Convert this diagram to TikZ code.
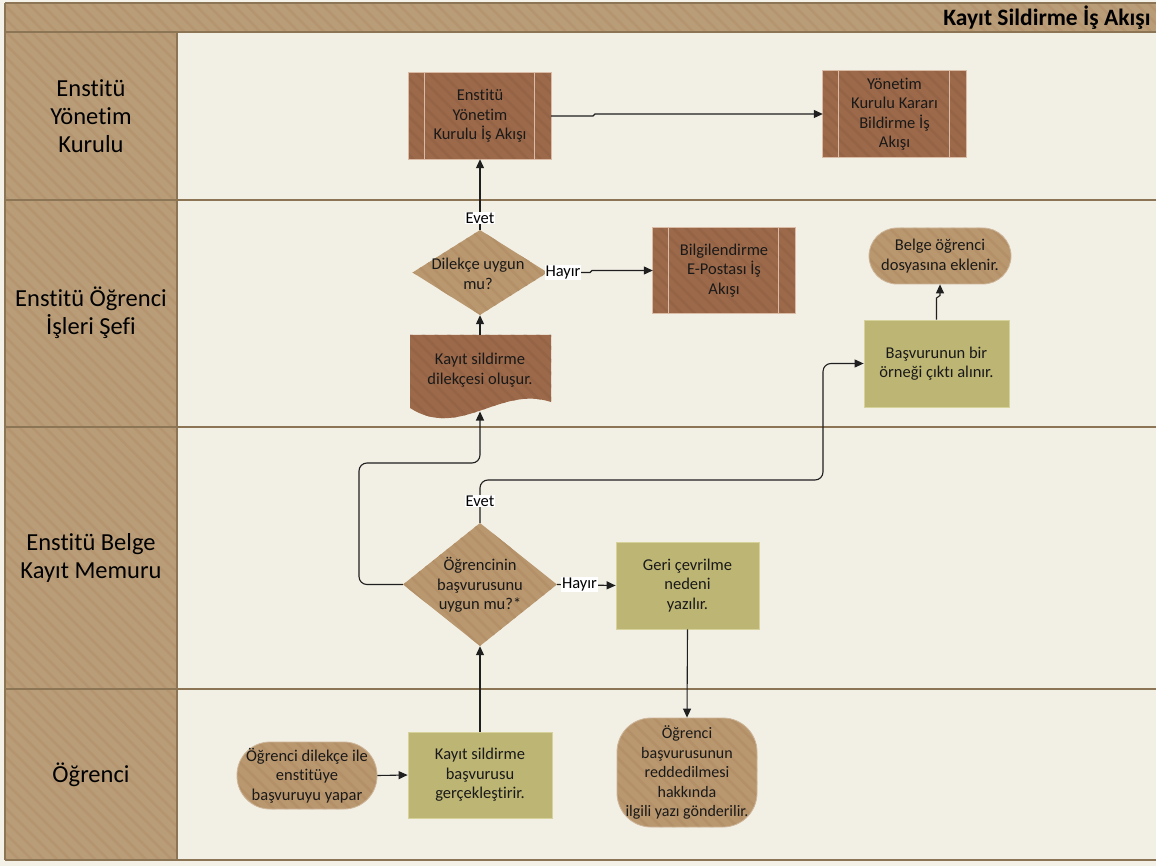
\documentclass[tikz,border=0pt]{standalone}
\usepackage{fontspec}
\setmainfont{Carlito}[Ligatures={NoCommon}]
\usetikzlibrary{arrows.meta,shapes.geometric,patterns.meta}
\definecolor{bgout}{HTML}{F3F1E8}
\definecolor{bgin}{HTML}{F2EFE4}
\definecolor{lanefill}{HTML}{B99D79}
\definecolor{lanestripe}{HTML}{B4956F}
\definecolor{lanerule}{HTML}{8C7555}
\definecolor{predfill}{HTML}{9C6A4A}
\definecolor{predstripe}{HTML}{956345}
\definecolor{predline}{HTML}{D9BBA6}
\definecolor{tanfill}{HTML}{B9976F}
\definecolor{tanstripe}{HTML}{B39067}
\definecolor{olivefill}{HTML}{BDB574}
\definecolor{oliveline}{HTML}{D7D19C}
\tikzset{
  striped/.style 2 args={preaction={fill=#1},pattern={Lines[angle=-45,distance=9pt,line width=2.5pt]},pattern color=#2},
  lanelbl/.style={align=center,font=\fontsize{24.5}{28}\selectfont,text=black},
  boxtext/.style={align=center,font=\fontsize{16.5}{19.5}\selectfont,text=black!90,inner sep=0pt},
  predef/.style={boxtext,rectangle,striped={predfill}{predstripe},minimum width=142pt,minimum height=86pt},
  olivebox/.style={boxtext,rectangle,fill=olivefill,draw=oliveline,line width=0.8pt,minimum width=143pt,minimum height=87pt},
  termbox/.style={boxtext,rectangle,striped={tanfill}{tanstripe},draw=tanfill!70!white,line width=0.8pt},
  decision/.style={diamond,inner sep=0pt,striped={tanfill}{tanstripe},draw=none},
  conn/.style={draw=black!88,line width=1.1pt,-{Triangle[length=9pt,width=8pt]}},
  flowlbl/.style={fill=white,inner sep=1pt,font=\fontsize{16.5}{18}\selectfont,text=black}
}
\begin{document}
\begin{tikzpicture}[x=1pt,y=-1pt]
\useasboundingbox (0,0) rectangle (1156,866);
\fill[bgout] (0,0) rectangle (1156,866);
% lanes background
\fill[bgin] (177,32) rectangle (1160,860);
% title bar and lane heads
\path[striped={lanefill}{lanestripe}] (5,3) rectangle (1160,32);
\path[striped={lanefill}{lanestripe}] (5,32) rectangle (177,860);
\draw[lanerule,line width=1.6pt] (5,3) -- (1160,3);
\foreach \yy in {32,200,427,689,860} {\draw[lanerule,line width=1.6pt] (5,\yy) -- (1160,\yy);}
\draw[lanerule,line width=1.6pt] (5,3) -- (5,860);
\draw[lanerule,line width=1.2pt] (177,32) -- (177,860);
\node[anchor=east,font=\fontsize{23.5}{28}\selectfont\bfseries] (title) at (1154,17.5) {Kayıt Sildirme İş Akışı};
% lane labels
\node[lanelbl] (l1) at (91,116) {Enstitü\\Yönetim\\Kurulu};
\node[lanelbl] (l2) at (91,313) {Enstitü Öğrenci\\İşleri Şefi};
\node[lanelbl] (l3) at (91,558) {Enstitü Belge\\Kayıt Memuru};
\node[lanelbl] (l4) at (91,775) {Öğrenci};
% nodes
\node[predef] (p1) at (480,116) {Enstitü\\Yönetim\\Kurulu İş Akışı};
\node[predef,minimum width=143pt] (p2) at (894.5,114) {Yönetim\\Kurulu Kararı\\Bildirme İş\\Akışı};
\node[predef,minimum height=85pt] (p3) at (724,270.5) {Bilgilendirme\\E-Postası İş\\Akışı};
\foreach \n in {p1,p2,p3} {
  \draw[predline,line width=0.8pt] (\n.north west) rectangle (\n.south east);
  \draw[predline,line width=1.2pt] ([xshift=16pt]\n.north west) -- ([xshift=16pt]\n.south west);
  \draw[predline,line width=1.2pt] ([xshift=-17pt]\n.north east) -- ([xshift=-17pt]\n.south east);
}
\node[decision,minimum width=135pt,minimum height=85pt] (d1) at (480,272.5) {};
\node[boxtext] (d1t) at (478,274) {Dilekçe uygun\\mu?};
% document shape
\path[striped={predfill}{predstripe}] (410,335) -- (551,335) -- (551,402) .. controls (500,385) and (460,440) .. (410,408) -- cycle;
\node[boxtext,minimum width=141pt,minimum height=70pt] (doc) at (480,370) {Kayıt sildirme\\dilekçesi oluşur.};
\coordinate (docbot) at (480,411.5);
\node[termbox,rounded corners=28pt,minimum width=142pt,minimum height=56pt] (t1) at (940,256) {Belge öğrenci\\dosyasına eklenir.};
\node[olivebox,minimum width=145pt] (r1) at (936.5,363.5) {Başvurunun bir\\örneği çıktı alınır.};
\node[decision,minimum width=154pt,minimum height=123pt] (d2) at (480,584.5) {};
\node[boxtext] (d2t) at (480,585) {Öğrencinin\\başvurusunu\\uygun mu?*};
\node[olivebox] (r2) at (687.5,585.5) {Geri çevrilme\\nedeni\\yazılır.};
\node[termbox,rounded corners=33pt,minimum width=140pt,minimum height=67pt] (t2) at (307,775.5) {Öğrenci dilekçe ile\\enstitüye\\başvuruyu yapar};
\node[olivebox,minimum width=144pt,minimum height=86pt] (r3) at (480,775) {Kayıt sildirme\\başvurusu\\gerçekleştirir.};
\node[termbox,rounded corners=34pt,minimum width=140pt,minimum height=109pt,font=\fontsize{16}{19.5}\selectfont] (t3) at (687,772.5) {Öğrenci\\başvurusunun\\reddedilmesi\\hakkında\\ilgili yazı gönderilir.};
% connectors
\draw[conn] (t2.east) -- (r3.west);
\draw[conn] (r3.north) -- (d2.south);
\draw[conn,rounded corners=8pt] (d2.west) -- (359,584.5) -- (359,463) -- (480,463) -- (docbot);
\draw[conn,rounded corners=8pt] (d2.north) -- (480,480) -- (823,480) -- (823,363.5) -- (r1.west);
\node[flowlbl] (e2) at (480,501) {Evet};
\draw[conn] (d2.east) -- (r2.west);
\node[flowlbl] (h2) at (579.5,584.5) {Hayır};
\draw[conn] (r2.south) -- (t3.north);
\draw[conn] (r1.north) -- (936.5,298) -- (940,295.5) -- (t1.south);
\draw[conn] (doc.north) -- (d1.south);
\draw[conn] (d1.north) -- (p1.south);
\node[flowlbl] (e1) at (480,218) {Evet};
\draw[conn] (d1.east) -- (590,272.5) -- (592,270.5) -- (p3.west);
\node[flowlbl] (h1) at (563,272.5) {Hayır};
\draw[conn] (p1.east) -- (593,116) -- (595,114) -- (p2.west);
\end{tikzpicture}
\end{document}
